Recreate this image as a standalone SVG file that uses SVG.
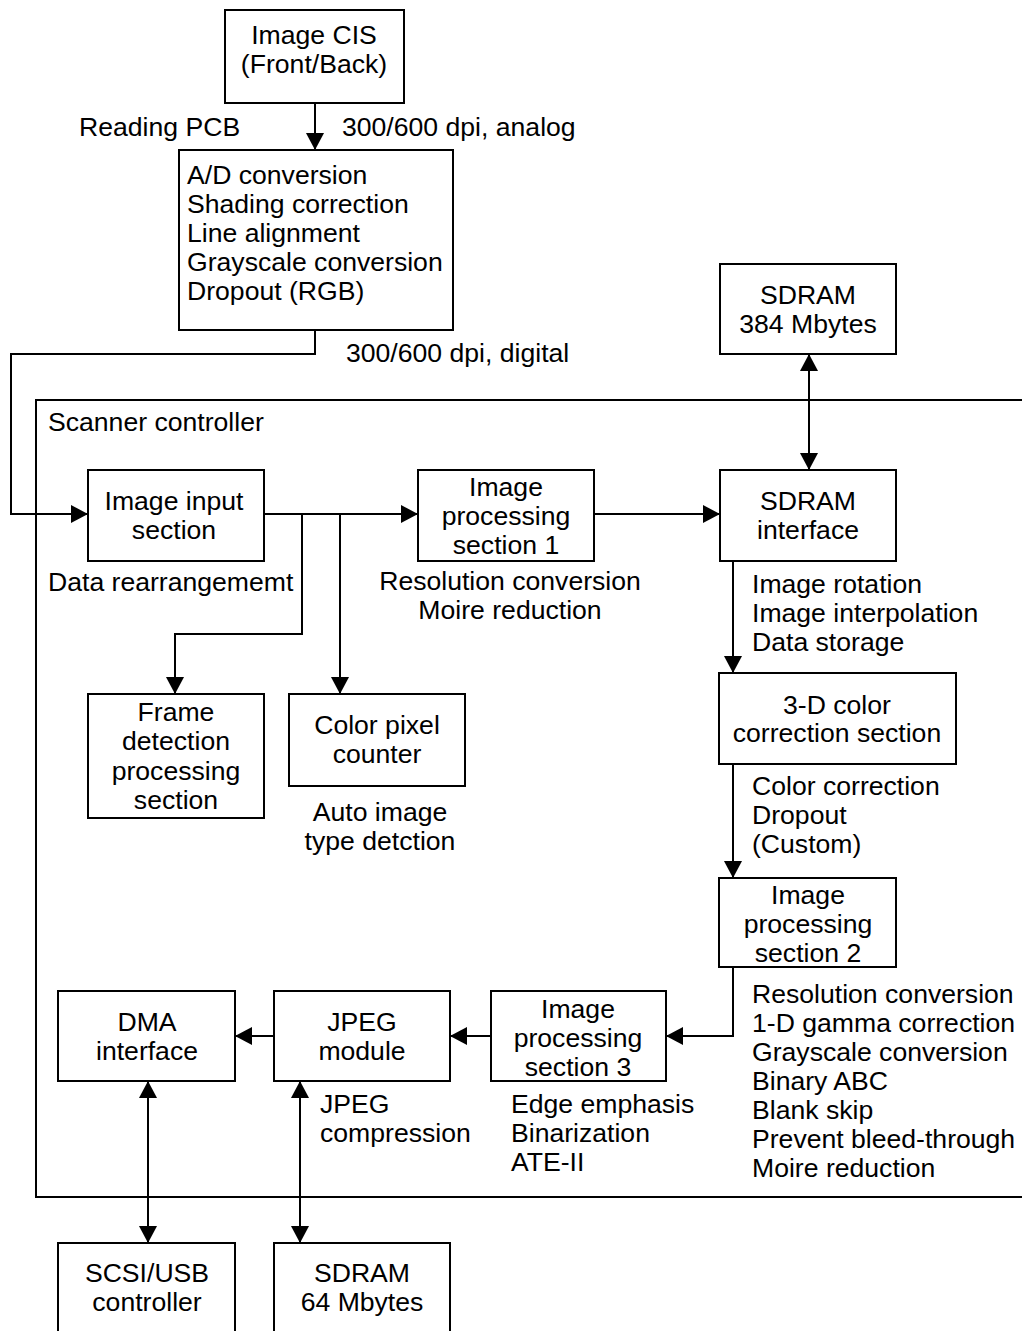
<svg xmlns="http://www.w3.org/2000/svg" width="1022" height="1331" viewBox="0 0 1022 1331">
<style>
.b{fill:#fff;stroke:#000;stroke-width:2}
.l{fill:none;stroke:#000;stroke-width:2}
text{font-family:"Liberation Sans",Arial,Helvetica,sans-serif;font-size:26.6px;fill:#000}
.c{text-anchor:middle}
</style>
<defs>
<marker id="ah" viewBox="0 0 17 18" refX="17" refY="9" markerWidth="17" markerHeight="18" markerUnits="userSpaceOnUse" orient="auto-start-reverse">
<path d="M0,0 L17,9 L0,18 z" fill="#000"/>
</marker>
</defs>
<rect width="1022" height="1331" fill="#fff"/>
<g id="scanner-controller">
<path class="l" d="M1022,400 H36 V1197 H1022"/>
<text x="48" y="431">Scanner controller</text>
</g>
<g id="connectors">
<path class="l" d="M315,103 V150" marker-end="url(#ah)"/>
<path class="l" d="M315,330 V354 H11 V514 H88" marker-end="url(#ah)"/>
<path class="l" d="M264,514 H418" marker-end="url(#ah)"/>
<path class="l" d="M302,514 V634 H175 V694" marker-end="url(#ah)"/>
<path class="l" d="M340,514 V694" marker-end="url(#ah)"/>
<path class="l" d="M594,514 H720" marker-end="url(#ah)"/>
<path class="l" d="M809,354 V470" marker-start="url(#ah)" marker-end="url(#ah)"/>
<path class="l" d="M733,561 V673" marker-end="url(#ah)"/>
<path class="l" d="M733,764 V878" marker-end="url(#ah)"/>
<path class="l" d="M733,967 V1036 H666" marker-end="url(#ah)"/>
<path class="l" d="M491,1036 H450" marker-end="url(#ah)"/>
<path class="l" d="M274,1036 H235" marker-end="url(#ah)"/>
<path class="l" d="M148,1081 V1243" marker-start="url(#ah)" marker-end="url(#ah)"/>
<path class="l" d="M300,1081 V1243" marker-start="url(#ah)" marker-end="url(#ah)"/>
</g>
<g id="labels">
<text x="79" y="136">Reading PCB</text>
<text x="342" y="136">300/600 dpi, analog</text>
<text x="346" y="362">300/600 dpi, digital</text>
<text x="48" y="591">Data rearrangememt</text>
<text class="c" x="510" y="590">Resolution conversion</text>
<text class="c" x="510" y="619">Moire reduction</text>
<text x="752" y="593">Image rotation</text>
<text x="752" y="622">Image interpolation</text>
<text x="752" y="651">Data storage</text>
<text class="c" x="380" y="821">Auto image</text>
<text class="c" x="380" y="850">type detction</text>
<text x="752" y="795">Color correction</text>
<text x="752" y="824">Dropout</text>
<text x="752" y="853">(Custom)</text>
<text x="752" y="1003">Resolution conversion</text>
<text x="752" y="1032">1-D gamma correction</text>
<text x="752" y="1061">Grayscale conversion</text>
<text x="752" y="1090">Binary ABC</text>
<text x="752" y="1119">Blank skip</text>
<text x="752" y="1148">Prevent bleed-through</text>
<text x="752" y="1177">Moire reduction</text>
<text x="511" y="1113">Edge emphasis</text>
<text x="511" y="1142">Binarization</text>
<text x="511" y="1171">ATE-II</text>
<text x="320" y="1113">JPEG</text>
<text x="320" y="1142">compression</text>
</g>
<g id="image-cis">
<rect class="b" x="225" y="10" width="179" height="93"/>
<text class="c" x="314" y="44">Image CIS</text>
<text class="c" x="314" y="73">(Front/Back)</text>
</g>
<g id="reading-pcb">
<rect class="b" x="179" y="150" width="274" height="180"/>
<text x="187" y="184">A/D conversion</text>
<text x="187" y="213">Shading correction</text>
<text x="187" y="242">Line alignment</text>
<text x="187" y="271">Grayscale conversion</text>
<text x="187" y="300">Dropout (RGB)</text>
</g>
<g id="sdram-384">
<rect class="b" x="720" y="264" width="176" height="90"/>
<text class="c" x="808" y="304">SDRAM</text>
<text class="c" x="808" y="333">384 Mbytes</text>
</g>
<g id="image-input">
<rect class="b" x="88" y="470" width="176" height="91"/>
<text class="c" x="174" y="510">Image input</text>
<text class="c" x="174" y="539">section</text>
</g>
<g id="ip1">
<rect class="b" x="418" y="470" width="176" height="91"/>
<text class="c" x="506" y="496">Image</text>
<text class="c" x="506" y="525">processing</text>
<text class="c" x="506" y="554">section 1</text>
</g>
<g id="sdram-interface">
<rect class="b" x="720" y="470" width="176" height="91"/>
<text class="c" x="808" y="510">SDRAM</text>
<text class="c" x="808" y="539">interface</text>
</g>
<g id="frame-detection">
<rect class="b" x="88" y="694" width="176" height="124"/>
<text class="c" x="176" y="721">Frame</text>
<text class="c" x="176" y="750">detection</text>
<text class="c" x="176" y="780">processing</text>
<text class="c" x="176" y="809">section</text>
</g>
<g id="color-pixel">
<rect class="b" x="289" y="694" width="176" height="92"/>
<text class="c" x="377" y="734">Color pixel</text>
<text class="c" x="377" y="763">counter</text>
</g>
<g id="color-3d">
<rect class="b" x="719" y="673" width="237" height="91"/>
<text class="c" x="837" y="714">3-D color</text>
<text class="c" x="837" y="742">correction section</text>
</g>
<g id="ip2">
<rect class="b" x="719" y="878" width="177" height="89"/>
<text class="c" x="808" y="904">Image</text>
<text class="c" x="808" y="933">processing</text>
<text class="c" x="808" y="962">section 2</text>
</g>
<g id="ip3">
<rect class="b" x="491" y="991" width="175" height="90"/>
<text class="c" x="578" y="1018">Image</text>
<text class="c" x="578" y="1047">processing</text>
<text class="c" x="578" y="1076">section 3</text>
</g>
<g id="jpeg">
<rect class="b" x="274" y="991" width="176" height="90"/>
<text class="c" x="362" y="1031">JPEG</text>
<text class="c" x="362" y="1060">module</text>
</g>
<g id="dma">
<rect class="b" x="58" y="991" width="177" height="90"/>
<text class="c" x="147" y="1031">DMA</text>
<text class="c" x="147" y="1060">interface</text>
</g>
<g id="scsi-usb">
<rect class="b" x="58" y="1243" width="177" height="110"/>
<text class="c" x="147" y="1282">SCSI/USB</text>
<text class="c" x="147" y="1311">controller</text>
</g>
<g id="sdram-64">
<rect class="b" x="274" y="1243" width="176" height="110"/>
<text class="c" x="362" y="1282">SDRAM</text>
<text class="c" x="362" y="1311">64 Mbytes</text>
</g>
</svg>
